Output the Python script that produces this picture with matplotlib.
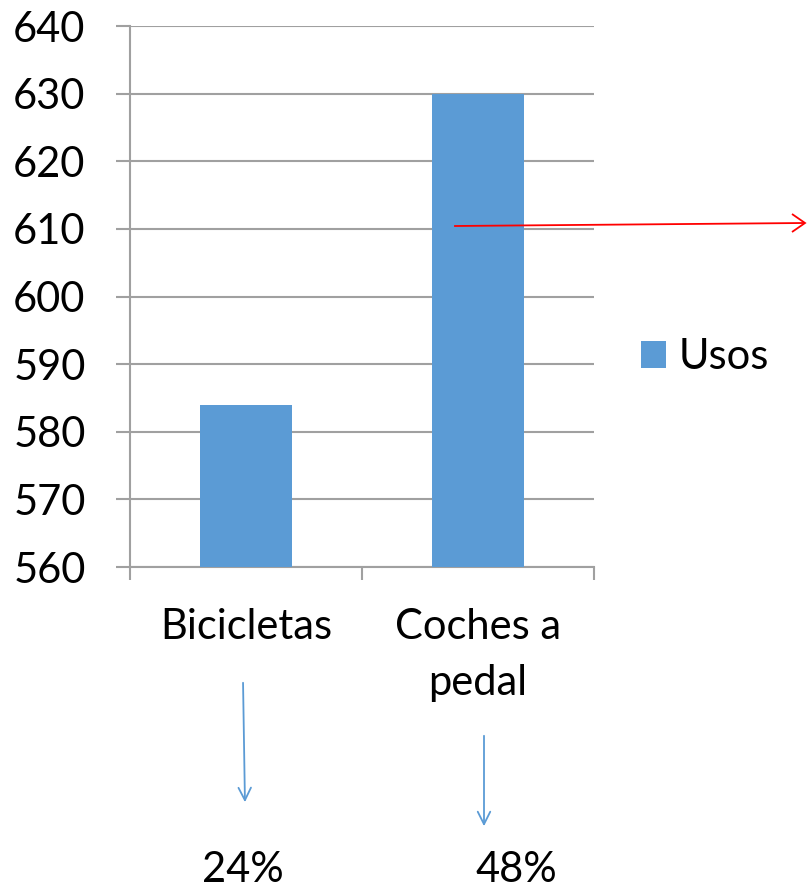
import numpy as np
import matplotlib.pyplot as plt

categorias = ['Bicicletas', 'Coches a\npedal']
usos = [584, 630]
porcentajes = ['24%', '48%']
yticks = [560, 570, 580, 590, 600, 610, 620, 630, 640]

W, H = 807, 888
plt.rcParams['font.family'] = ['Lato', 'DejaVu Sans']
FS = 30

fig = plt.figure(figsize=(W / 100, H / 100), dpi=100)
ax = fig.add_axes([130 / W, 1 - 567 / H, (594 - 130) / W, (567 - 26) / H])

x = np.arange(len(categorias))
ax.bar(x, usos, width=0.4, color='#5B9BD5', label='Usos', zorder=3)
ax.set_xlim(-0.5, 1.5)
ax.set_ylim(560, 640)
ax.set_yticks(yticks)
ax.set_yticklabels([str(t) for t in yticks], fontsize=FS)
ax.yaxis.grid(True, color='#A0A0A0', linewidth=1.5, zorder=0)
ax.set_xticks([-0.5, 0.5, 1.5])
ax.set_xticklabels([])
ax.tick_params(axis='x', length=9, color='#A0A0A0', width=1.5, direction='out')
ax.tick_params(axis='y', length=10, color='#A0A0A0', width=1.5, pad=22)
for s in ['top', 'right']:
    ax.spines[s].set_visible(False)
for s in ['left', 'bottom']:
    ax.spines[s].set_color('#A0A0A0')
    ax.spines[s].set_linewidth(1.5)

# etiquetas de categoria debajo del eje
for i, c in enumerate(categorias):
    ax.text(i, 554.0, c, ha='center', va='top', fontsize=FS, linespacing=1.6)

leg = fig.legend(loc='center left', bbox_to_anchor=(603 / W, 1 - 357 / H), frameon=False,
                 fontsize=FS, handlelength=0.62, handleheight=0.62, handletextpad=0.3)

def fx(px):
    return px / W

def fy(py):
    return 1 - py / H

# flecha roja
fig.add_artist(plt.Line2D([fx(455), fx(804)], [fy(226), fy(223)], color='#FF0000', lw=1.3))
fig.patches.append(plt.Polygon([[fx(792), fy(214)], [fx(805), fy(223)], [fx(792), fy(232)]],
                               closed=False, fill=False, edgecolor='#FF0000', lw=1.3,
                               transform=fig.transFigure))

# flechas azules hacia los porcentajes
ax.annotate('', xy=(fx(245), fy(805)), xytext=(fx(243), fy(680)), xycoords='figure fraction',
            arrowprops=dict(arrowstyle='->,head_length=0.9,head_width=0.45', color='#5B9BD5', lw=1.3))
ax.annotate('', xy=(fx(484), fy(829)), xytext=(fx(484), fy(733)), xycoords='figure fraction',
            arrowprops=dict(arrowstyle='->,head_length=0.9,head_width=0.45', color='#5B9BD5', lw=1.3))

fig.text(fx(243), fy(870), porcentajes[0], ha='center', va='center', fontsize=FS)
fig.text(fx(516), fy(870), porcentajes[1], ha='center', va='center', fontsize=FS)

fig.savefig('out.png', dpi=100)
